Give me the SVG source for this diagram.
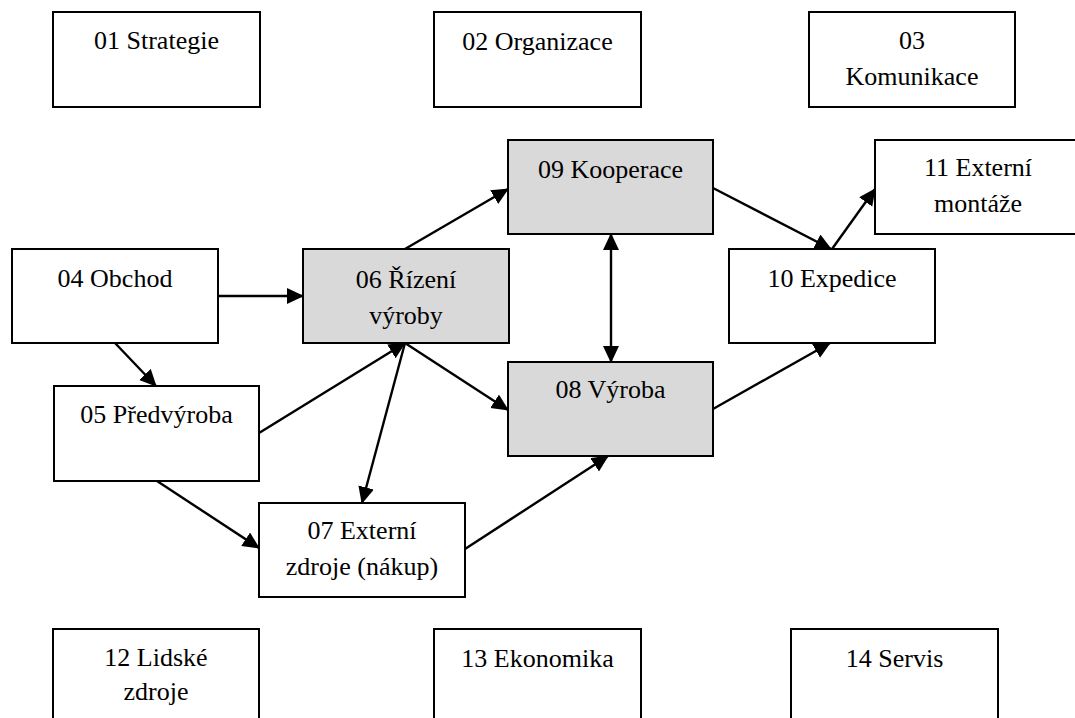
<svg xmlns="http://www.w3.org/2000/svg" width="1075" height="718" viewBox="0 0 1075 718">
  <style>
    .box { fill: #ffffff; stroke: #000000; stroke-width: 2; }
    .hl { fill: #d9d9d9; }
    .conn { stroke: #000000; stroke-width: 2.4; fill: none; marker-end: url(#arrow); }
    .both { marker-start: url(#arrow); }
    text { font-family: "Liberation Serif", "DejaVu Serif", serif; font-size: 26px; fill: #000000; text-anchor: middle; }
  </style>
  <defs>
    <marker id="arrow" markerUnits="userSpaceOnUse" markerWidth="20" markerHeight="18" refX="16" refY="8" orient="auto-start-reverse">
      <path d="M0,0 L17,8 L0,16 Z" fill="#000000"/>
    </marker>
  </defs>
  <rect width="1075" height="718" fill="#ffffff"/>

  <!-- support areas, top row -->
  <g id="n01">
    <rect class="box" x="53" y="12" width="207" height="95"/>
    <text x="156.5" y="49">01 Strategie</text>
  </g>
  <g id="n02">
    <rect class="box" x="434" y="12" width="207" height="95"/>
    <text x="537.5" y="50">02 Organizace</text>
  </g>
  <g id="n03">
    <rect class="box" x="809" y="12" width="206" height="95"/>
    <text x="912" y="49">03</text>
    <text x="912" y="85">Komunikace</text>
  </g>

  <!-- core process -->
  <g id="n04">
    <rect class="box" x="12" y="249" width="206" height="94"/>
    <text x="115" y="287">04 Obchod</text>
  </g>
  <g id="n05">
    <rect class="box" x="54" y="386" width="205" height="95"/>
    <text x="156.5" y="423">05 Předvýroba</text>
  </g>
  <g id="n06">
    <rect class="box hl" x="303" y="249" width="206" height="94"/>
    <text x="406" y="288">06 Řízení</text>
    <text x="406" y="324">výroby</text>
  </g>
  <g id="n07">
    <rect class="box" x="259" y="503" width="206" height="94"/>
    <text x="362" y="539">07 Externí</text>
    <text x="362" y="575">zdroje (nákup)</text>
  </g>
  <g id="n08">
    <rect class="box hl" x="508" y="362" width="205" height="94"/>
    <text x="610.5" y="398">08 Výroba</text>
  </g>
  <g id="n09">
    <rect class="box hl" x="508" y="140" width="205" height="94"/>
    <text x="610.5" y="178">09 Kooperace</text>
  </g>
  <g id="n10">
    <rect class="box" x="729" y="249" width="206" height="94"/>
    <text x="832" y="287">10 Expedice</text>
  </g>
  <g id="n11">
    <rect class="box" x="875" y="140" width="206" height="94"/>
    <text x="978" y="176">11 Externí</text>
    <text x="978" y="212">montáže</text>
  </g>

  <!-- support areas, bottom row -->
  <g id="n12">
    <rect class="box" x="53" y="629" width="206" height="95"/>
    <text x="156" y="666">12 Lidské</text>
    <text x="156" y="700">zdroje</text>
  </g>
  <g id="n13">
    <rect class="box" x="434" y="629" width="207" height="95"/>
    <text x="537.5" y="667">13 Ekonomika</text>
  </g>
  <g id="n14">
    <rect class="box" x="791" y="629" width="207" height="95"/>
    <text x="894.5" y="667">14 Servis</text>
  </g>

  <!-- connectors -->
  <g id="connectors">
    <line class="conn" x1="218" y1="296" x2="303" y2="296"/>
    <line class="conn" x1="115" y1="343" x2="156" y2="386"/>
    <line class="conn" x1="259" y1="433" x2="405" y2="343"/>
    <line class="conn" x1="405" y1="249" x2="508" y2="189"/>
    <line class="conn" x1="405" y1="343" x2="508" y2="410"/>
    <line class="conn" x1="405" y1="343" x2="362" y2="503"/>
    <line class="conn" x1="157" y1="481" x2="259" y2="548"/>
    <line class="conn" x1="465" y1="549" x2="608" y2="456"/>
    <line class="conn both" x1="611" y1="234" x2="611" y2="362"/>
    <line class="conn" x1="713" y1="188" x2="831" y2="249"/>
    <line class="conn" x1="832" y1="249" x2="875" y2="189"/>
    <line class="conn" x1="713" y1="409" x2="830" y2="343"/>
  </g>
</svg>
